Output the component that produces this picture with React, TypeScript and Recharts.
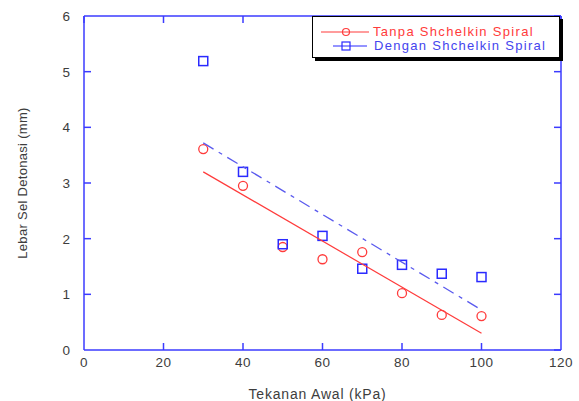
import {
  ComposedChart,
  Scatter,
  XAxis,
  YAxis,
  Label,
} from 'recharts'

const pressures = [30, 40, 50, 60, 70, 80, 90, 100]
const tanpaValues = [3.61, 2.95, 1.85, 1.63, 1.76, 1.02, 0.63, 0.61]
const denganValues = [5.19, 3.2, 1.9, 2.05, 1.46, 1.53, 1.37, 1.31]

// end points of the two fitted lines
const fitX = [30, 100]
const tanpaFit = [3.2, 0.3]
const denganFit = [3.72, 0.72]

const xTicks = [0, 20, 40, 60, 80, 100, 120]
const yTicks = [0, 1, 2, 3, 4, 5, 6]

const RED = '#ff3b3b'
const BLUE = '#2a2aff'
const AXIS = '#3b3bff'
const TEXT = '#3d3d3d'
const TICK = 7

const tanpaData = pressures.map((p, i) => ({ x: p, y: tanpaValues[i] }))
const denganData = pressures.map((p, i) => ({ x: p, y: denganValues[i] }))
const tanpaLine = fitX.map((p, i) => ({ x: p, y: tanpaFit[i] }))
const denganLine = fitX.map((p, i) => ({ x: p, y: denganFit[i] }))
// anchor points for the inward ticks on the bottom and left edges
const bottomTickPts = xTicks.slice(1, -1).map((t) => ({ x: t, y: 0 }))
const leftTickPts = yTicks.slice(1, -1).map((t) => ({ x: 0, y: t }))

const font = 'Arial, "Liberation Sans", sans-serif'

const Circle = (props: any) => (
  <circle cx={props.cx} cy={props.cy} r={4.5} fill="none" stroke={RED} strokeWidth={1.3} />
)

const Square = (props: any) => (
  <rect
    x={props.cx - 4.5}
    y={props.cy - 4.5}
    width={9}
    height={9}
    fill="none"
    stroke={BLUE}
    strokeWidth={1.5}
  />
)

const NoDot = () => <g />

const TickUp = (props: any) => (
  <path d={`M${props.cx},${props.cy}V${props.cy - TICK}`} stroke={AXIS} strokeWidth={1.5} fill="none" />
)

const TickRight = (props: any) => (
  <path d={`M${props.cx},${props.cy}H${props.cx + TICK}`} stroke={AXIS} strokeWidth={1.5} fill="none" />
)

const BottomTick = (props: any) => (
  <text
    x={props.x}
    y={Number(props.y) + 5}
    textAnchor="middle"
    fill={TEXT}
    fontSize={13.5}
    fontFamily={font}
    letterSpacing={0.5}
  >
    {props.payload.value}
  </text>
)

const LeftTick = (props: any) => (
  <text x={props.x} y={Number(props.y) + 5} textAnchor="end" fill={TEXT} fontSize={13.5} fontFamily={font}>
    {props.payload.value}
  </text>
)

const TopTick = (props: any) => {
  const x = Number(props.x)
  const y = Number(props.y)
  return <path d={`M${x},${y}V${y + TICK}`} stroke={AXIS} strokeWidth={1.5} fill="none" />
}

const RightTick = (props: any) => {
  const x = Number(props.x)
  const y = Number(props.y)
  return <path d={`M${x},${y}H${x - TICK}`} stroke={AXIS} strokeWidth={1.5} fill="none" />
}

function LegendBox() {
  return (
    <div
      style={{
        position: 'absolute',
        left: 312,
        top: 16,
        width: 246,
        height: 40,
        background: '#fff',
        border: '1px solid #000',
        boxShadow: '3px 3px 0 #000',
        fontFamily: font,
        fontSize: 13,
        lineHeight: '14px',
        letterSpacing: 1.3,
      }}
    >
      <svg width={60} height={40} style={{ position: 'absolute', left: 0, top: 0 }}>
        <line x1={8} x2={56} y1={15} y2={15} stroke={RED} strokeWidth={1.2} />
        <circle cx={33} cy={15} r={3.5} fill="none" stroke={RED} strokeWidth={1.2} />
        <line x1={20} x2={54} y1={29} y2={29} stroke={BLUE} strokeWidth={1.2} />
        <rect x={29} y={25} width={8} height={8} fill="none" stroke={BLUE} strokeWidth={1.2} />
      </svg>
      <div style={{ position: 'absolute', left: 60, top: 8, color: RED, whiteSpace: 'nowrap' }}>
        Tanpa Shchelkin Spiral
      </div>
      <div style={{ position: 'absolute', left: 61, top: 22, color: '#4444ee', whiteSpace: 'nowrap' }}>
        Dengan Shchelkin Spiral
      </div>
    </div>
  )
}

export default function App() {
  return (
    <div style={{ position: 'absolute', left: 0, top: 0, width: 579, height: 401, background: '#fff' }}>
      <ComposedChart width={579} height={401} margin={{ top: 15, right: 17, bottom: 0, left: 0 }}>
        <XAxis
          xAxisId="b"
          dataKey="x"
          type="number"
          domain={[0, 120]}
          ticks={xTicks}
          interval={0}
          height={51}
          stroke={AXIS}
          strokeWidth={1.5}
          tickLine={false}
          tickSize={0}
          tickMargin={12}
          tick={BottomTick}
        >
          <Label
            value="Tekanan Awal (kPa)"
            position="insideBottom"
            offset={2}
            dx={-5}
            style={{ fill: TEXT, fontSize: 14, fontFamily: font, letterSpacing: 0.8 }}
          />
        </XAxis>
        <XAxis
          xAxisId="t"
          dataKey="x"
          type="number"
          orientation="top"
          domain={[0, 120]}
          ticks={xTicks}
          interval={0}
          height={1}
          stroke={AXIS}
          strokeWidth={1.5}
          tickLine={false}
          tickSize={0}
          tickMargin={0}
          tick={TopTick}
        />
        <YAxis
          yAxisId="l"
          dataKey="y"
          type="number"
          domain={[0, 6]}
          ticks={yTicks}
          interval={0}
          width={84}
          stroke={AXIS}
          strokeWidth={1.5}
          tickLine={false}
          tickSize={0}
          tickMargin={14}
          tick={LeftTick}
        >
          <Label
            value="Lebar Sel Detonasi (mm)"
            angle={-90}
            position="insideLeft"
            offset={22}
            style={{ fill: TEXT, fontSize: 13, fontFamily: font, textAnchor: 'middle', letterSpacing: 0.3 }}
          />
        </YAxis>
        <YAxis
          yAxisId="r"
          dataKey="y"
          type="number"
          orientation="right"
          domain={[0, 6]}
          ticks={yTicks}
          interval={0}
          width={1}
          stroke={AXIS}
          strokeWidth={1.5}
          tickLine={false}
          tickSize={0}
          tickMargin={0}
          tick={RightTick}
        />
        <Scatter data={bottomTickPts} xAxisId="b" yAxisId="l" shape={TickUp} isAnimationActive={false} />
        <Scatter data={leftTickPts} xAxisId="b" yAxisId="l" shape={TickRight} isAnimationActive={false} />
        <Scatter
          name="Tanpa Shchelkin Spiral"
          data={tanpaData}
          xAxisId="b"
          yAxisId="l"
          shape={Circle}
          isAnimationActive={false}
        />
        <Scatter
          name="Dengan Shchelkin Spiral"
          data={denganData}
          xAxisId="b"
          yAxisId="l"
          shape={Square}
          isAnimationActive={false}
        />
        {/* fit lines sit on the top/right axes, which share the same scales */}
        <Scatter
          data={tanpaLine}
          xAxisId="t"
          yAxisId="r"
          line={{ stroke: RED, strokeWidth: 1.2 }}
          shape={NoDot}
          isAnimationActive={false}
        />
        <Scatter
          data={denganLine}
          xAxisId="t"
          yAxisId="r"
          line={{ stroke: '#5a5aee', strokeWidth: 1.3, strokeDasharray: '12 6 4 6' }}
          shape={NoDot}
          isAnimationActive={false}
        />
      </ComposedChart>
      <LegendBox />
    </div>
  )
}
